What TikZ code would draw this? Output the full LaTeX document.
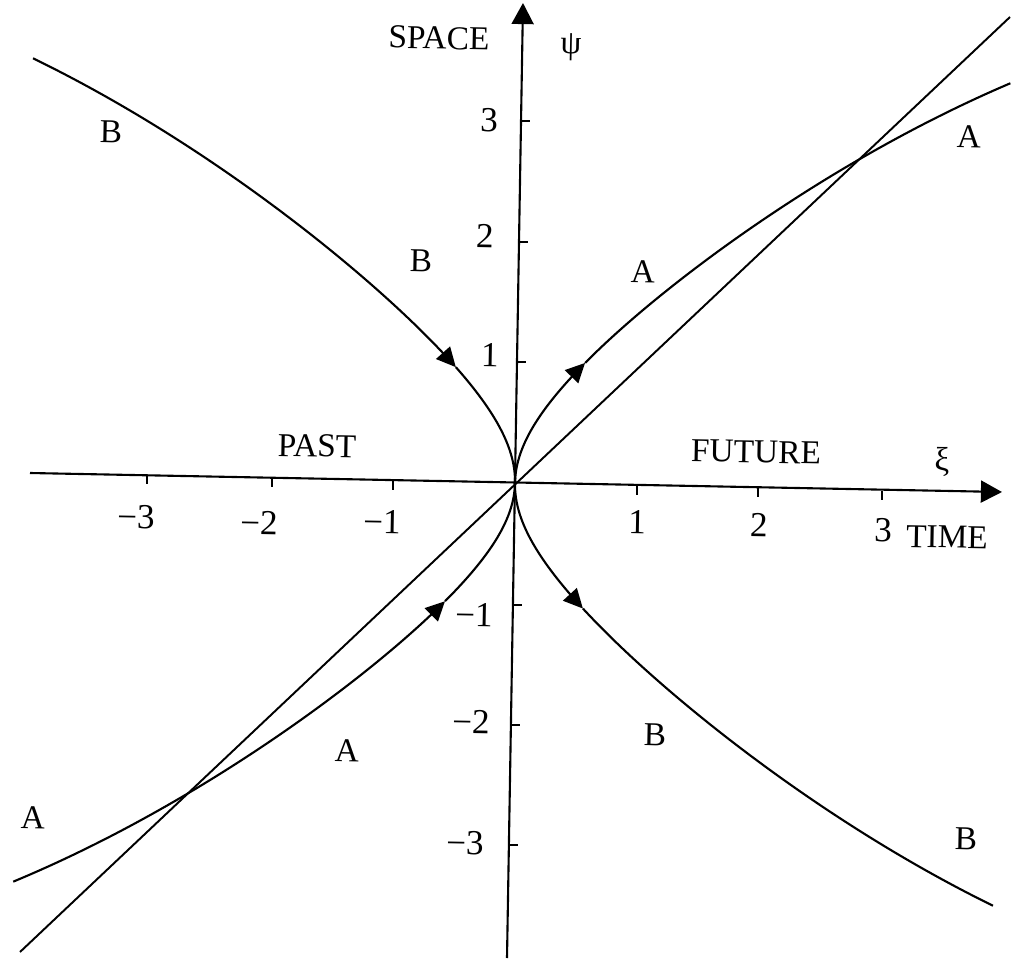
\documentclass[tikz,border=0pt]{standalone}
\usepackage{fontspec}
\setmainfont{Liberation Serif}
\usetikzlibrary{arrows.meta}
\begin{document}
\begin{tikzpicture}[x=0.02cm,y=-0.02cm,
  declare function={gA(\s)=1.452+0.63*\s-0.0726*\s*\s; gC(\s)=1.40+0.63*\s-0.0726*\s*\s; gB(\s)=1.452+0.65*\s-0.0726*\s*\s;},
  axisline/.style={line width=1.2pt,-{Triangle[length=12pt,width=12.5pt]}},
  plainline/.style={line width=1.1pt},
  tickmark/.style={line width=1.2pt},
  curve/.style={line width=1.2pt},
  flow/.style={-{Triangle[length=11pt,width=10.5pt]}},
  lbl/.style={font=\fontsize{19}{22}\selectfont,inner sep=0pt,rotate=-1.1},
  num/.style={font=\fontsize{20}{24}\selectfont,inner sep=0pt,rotate=-1.1}]
\fill[white] (0,0) rectangle (1015,960);
\useasboundingbox (0,0) rectangle (1015,960);

% axes
\coordinate (xl) at (30,473);
\coordinate (xr) at (1002,492);
\coordinate (yb) at (507,958);
\coordinate (yt) at (523,3);
\coordinate (O) at (515,483);
\draw[axisline] (xl) -- (xr);
\draw[axisline] (yb) -- (yt);

% diagonal line
\coordinate (dl) at (20,952);
\coordinate (dr) at (1010,17);
\draw[plainline] (dl) -- (dr);

% ticks
\foreach \px/\py in {147/475.4,272/478.0,393/480.5,637/485.5,758/488.0,882/490.5}
  \draw[tickmark] (\px,\py) -- ++(0,9);
\foreach \px/\py in {521.1/121,519.0/242,517.0/362,512.9/605,510.9/725,508.9/845}
  \draw[tickmark] (\px,\py) -- ++(9,0);

% trajectories, in the (rotated) axis frame
\begin{scope}[shift={(O)},rotate=-1.07,x=2.44cm,y=2.44cm]
  % A, upper right (away from origin)
  \draw[curve,flow] plot[domain=0:0.746,samples=30,smooth] ({\x*\x},{\x*sqrt(gA(\x*\x))});
  \draw[curve] plot[domain=0.746:2.0,samples=50,smooth] ({\x*\x},{\x*sqrt(gA(\x*\x))});
  % A, lower left (toward origin)
  \draw[curve,flow] plot[domain=2.013:0.745,samples=50,smooth] ({-\x*\x},{-\x*sqrt(gC(\x*\x))});
  \draw[curve] plot[domain=0.745:0,samples=30,smooth] ({-\x*\x},{-\x*sqrt(gC(\x*\x))});
  % B, upper left (toward origin)
  \draw[curve,flow] plot[domain=2.004:0.709,samples=50,smooth] ({-\x*\x},{\x*sqrt(gB(\x*\x))});
  \draw[curve] plot[domain=0.709:0,samples=30,smooth] ({-\x*\x},{\x*sqrt(gB(\x*\x))});
  % B, lower right (away from origin)
  \draw[curve,flow] plot[domain=0:0.759,samples=30,smooth] ({\x*\x},{-\x*sqrt(gB(\x*\x))});
  \draw[curve] plot[domain=0.759:1.996,samples=50,smooth] ({\x*\x},{-\x*sqrt(gB(\x*\x))});
\end{scope}

% axis labels
\node[lbl] (space) at (439,38) {SPACE};
\node[lbl] (psi) at (571,47) {ψ};
\node[lbl] (xi) at (942,462) {ξ};
\node[lbl] (time) at (947,537) {TIME};
\node[lbl] (past) at (317,446) {PAST};
\node[lbl] (future) at (756,452) {FUTURE};

% tick labels
\node[num] (y3) at (489,120) {3};
\node[num] (y2) at (485,236) {2};
\node[num] (y1) at (490,355) {1};
\node[num] (ym1) at (474,615) {−1};
\node[num] (ym2) at (471,722) {−2};
\node[num] (ym3) at (465,843) {−3};
\node[num] (xm3) at (136,517) {−3};
\node[num] (xm2) at (259,523) {−2};
\node[num] (xm1) at (382,522) {−1};
\node[num] (x1) at (637,522) {1};
\node[num] (x2) at (759,525) {2};
\node[num] (x3) at (883,530) {3};

% curve labels
\node[lbl] (b1) at (111,132) {B};
\node[lbl] (b2) at (421,261) {B};
\node[lbl] (a1) at (643,272) {A};
\node[lbl] (a2) at (969,137) {A};
\node[lbl] (a3) at (347,751) {A};
\node[lbl] (a4) at (33,818) {A};
\node[lbl] (b3) at (655,735) {B};
\node[lbl] (b4) at (966,839) {B};
\end{tikzpicture}
\end{document}
